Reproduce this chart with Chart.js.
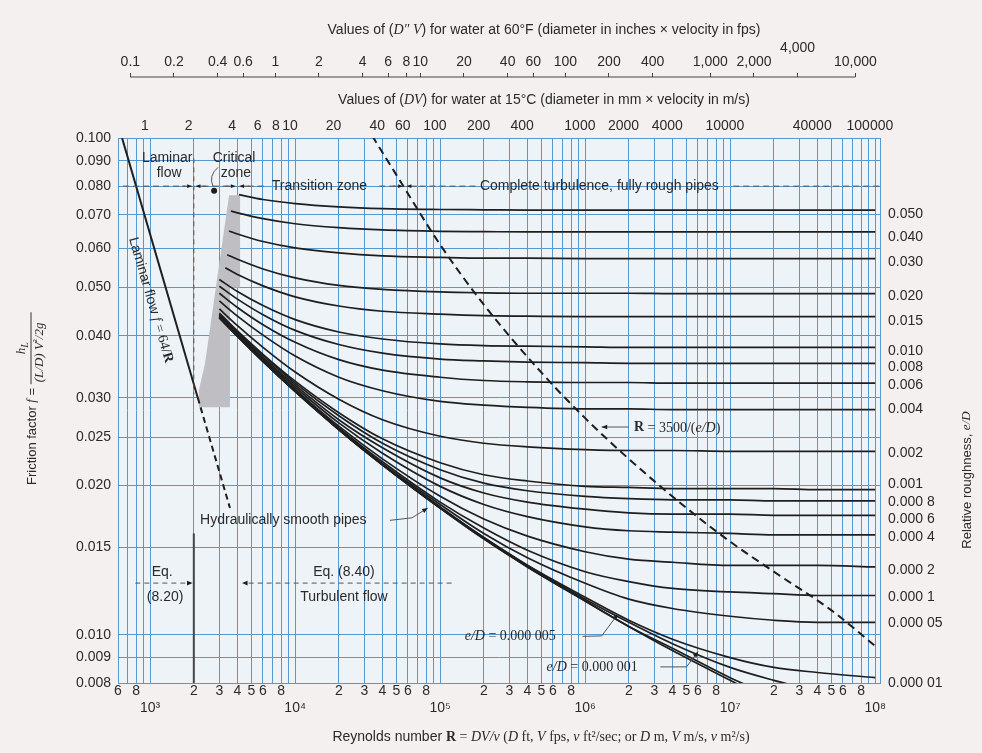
<!DOCTYPE html>
<html>
<head>
<meta charset="utf-8">
<script src="https://cdn.jsdelivr.net/npm/chart.js@4.4.1/dist/chart.umd.min.js"></script>
<style>
  html, body { margin: 0; padding: 0; background: #f5f0f0; }
  canvas { display: block; }
</style>
</head>
<body>
<canvas id="moody" width="982" height="753"></canvas>
<script>
var reynolds = [4000, 6000, 1e4, 2e4, 4e4, 1e5, 2e5, 4e5, 1e6, 2e6, 4e6, 1e7, 2e7, 4e7, 1e8];

// relative roughness of each curve, top to bottom (last three carry no right hand label)
var roughness = ['0.050', '0.040', '0.030', '0.020', '0.015', '0.010', '0.008', '0.006', '0.004',
  '0.002', '0.001', '0.000 8', '0.000 6', '0.000 4', '0.000 2', '0.000 1', '0.000 05', '0.000 01',
  '0.000 005', '0.000 001', 'smooth'];
// height of the right hand e/D labels, on the f scale
var roughnessLabelF = [0.0703, 0.0632, 0.0563, 0.0481, 0.0428, 0.0373, 0.0346, 0.0318, 0.0285,
  0.0232, 0.0201, 0.0185, 0.0171, 0.0157, 0.0135, 0.0119, 0.01057, 0.0080];

// where each curve starts, at the edge of the critical zone
var startRe = [4100, 3600, 3500, 3400, 3300, 3000, 3000, 3000, 3000, 3000, 3000, 3000, 3000, 3000, 3000, 3000, 3000, 3000, 3000, 3000, 3000];
var startF = [0.0769, 0.0713, 0.0650, 0.0582, 0.0548, 0.0519, 0.0503, 0.0487, 0.0470, 0.0453, 0.0444,
  0.0442, 0.0441, 0.0439, 0.0437, 0.0436, 0.0436, 0.0435, 0.0435, 0.0435, 0.0435];

// friction factor f at the reynolds numbers above, one row per curve
var frictionF = [
  [null, 0.0752, 0.0738, 0.0727, 0.0721, 0.0718, 0.0717, 0.0716, 0.0716, 0.0716, 0.0716, 0.0716, 0.0716, 0.0716, 0.0716],
  [0.0707, 0.0688, 0.0672, 0.0660, 0.0653, 0.0649, 0.0648, 0.0647, 0.0647, 0.0647, 0.0647, 0.0647, 0.0647, 0.0647, 0.0647],
  [0.0641, 0.0619, 0.0601, 0.0587, 0.0579, 0.0575, 0.0573, 0.0573, 0.0572, 0.0572, 0.0572, 0.0572, 0.0572, 0.0572, 0.0572],
  [0.0570, 0.0545, 0.0523, 0.0505, 0.0496, 0.0490, 0.0488, 0.0487, 0.0487, 0.0487, 0.0486, 0.0486, 0.0486, 0.0486, 0.0486],
  [0.0531, 0.0504, 0.0479, 0.0459, 0.0448, 0.0442, 0.0439, 0.0438, 0.0437, 0.0437, 0.0437, 0.0437, 0.0437, 0.0437, 0.0437],
  [0.0491, 0.0460, 0.0431, 0.0407, 0.0394, 0.0385, 0.0382, 0.0381, 0.0380, 0.0379, 0.0379, 0.0379, 0.0379, 0.0379, 0.0379],
  [0.0474, 0.0441, 0.0410, 0.0384, 0.0369, 0.0359, 0.0356, 0.0354, 0.0353, 0.0352, 0.0352, 0.0352, 0.0352, 0.0352, 0.0352],
  [0.0456, 0.0421, 0.0388, 0.0358, 0.0341, 0.0330, 0.0325, 0.0323, 0.0322, 0.0322, 0.0321, 0.0321, 0.0321, 0.0321, 0.0321],
  [0.0438, 0.0401, 0.0364, 0.0330, 0.0310, 0.0295, 0.0290, 0.0287, 0.0285, 0.0285, 0.0284, 0.0284, 0.0284, 0.0284, 0.0284],
  [0.0419, 0.0379, 0.0338, 0.0298, 0.0271, 0.0251, 0.0243, 0.0239, 0.0236, 0.0235, 0.0235, 0.0234, 0.0234, 0.0234, 0.0234],
  [0.0409, 0.0367, 0.0324, 0.0280, 0.0248, 0.0222, 0.0210, 0.0204, 0.0199, 0.0198, 0.0197, 0.0197, 0.0197, 0.0196, 0.0196],
  [0.0407, 0.0365, 0.0321, 0.0276, 0.0243, 0.0215, 0.0202, 0.0195, 0.0190, 0.0188, 0.0187, 0.0187, 0.0186, 0.0186, 0.0186],
  [0.0405, 0.0362, 0.0318, 0.0271, 0.0238, 0.0207, 0.0193, 0.0185, 0.0179, 0.0176, 0.0175, 0.0175, 0.0174, 0.0174, 0.0174],
  [0.0403, 0.0360, 0.0315, 0.0267, 0.0232, 0.0199, 0.0183, 0.0173, 0.0165, 0.0162, 0.0161, 0.0160, 0.0159, 0.0159, 0.0159],
  [0.0401, 0.0358, 0.0312, 0.0263, 0.0226, 0.0190, 0.0171, 0.0158, 0.0147, 0.0142, 0.0140, 0.0138, 0.0138, 0.0138, 0.0137],
  [0.0400, 0.0356, 0.0310, 0.0261, 0.0223, 0.0185, 0.0164, 0.0148, 0.0134, 0.0128, 0.0124, 0.0122, 0.0121, 0.0120, 0.0120],
  [0.0400, 0.0356, 0.0310, 0.0260, 0.0221, 0.0183, 0.0160, 0.0143, 0.0127, 0.0118, 0.0113, 0.0109, 0.0107, 0.0106, 0.0106],
  [0.0399, 0.0355, 0.0309, 0.0259, 0.0220, 0.0181, 0.0157, 0.0138, 0.0119, 0.0107, 0.0098, 0.0090, 0.0086, 0.0084, 0.0082],
  [0.0399, 0.0355, 0.0309, 0.0259, 0.0220, 0.0180, 0.0157, 0.0138, 0.0118, 0.0106, 0.0096, 0.0086, 0.0081, 0.0077, null],
  [0.0399, 0.0355, 0.0309, 0.0259, 0.0220, 0.0180, 0.0156, 0.0137, 0.0117, 0.0104, 0.0094, 0.0082, 0.0075, null, null],
  [0.0399, 0.0355, 0.0309, 0.0259, 0.0220, 0.0180, 0.0156, 0.0137, 0.0117, 0.0104, 0.0093, 0.0081, 0.0073, null, null]
];

// laminar line f = 64/R, solid then dashed
var laminarRe = [640, 2130];
var laminarF = [0.100, 0.0300];
var laminarDashRe = [2130, 3550];
var laminarDashF = [0.0300, 0.0180];

// boundary of complete turbulence, R = 3500/(e/D)
var boundaryRe = [3.4e4, 5e4, 1e5, 2e5, 5e5, 1e6, 2e6, 5e6, 1e7, 2e7, 5e7, 1e8];
var boundaryF = [0.101, 0.0842, 0.0610, 0.0462, 0.0337, 0.0273, 0.0226, 0.0180, 0.0154, 0.0134, 0.0112, 0.0095];

// grey critical zone outline
var criticalRe = [3500, 4170, 4170, 3550, 3550, 2170, 2170, 2390, 3500];
var criticalF = [0.0767, 0.0767, 0.0500, 0.0500, 0.0287, 0.0287, 0.0311, 0.0352, 0.0767];

// axis ticks
var fTicks = [0.008, 0.009, 0.010, 0.015, 0.020, 0.025, 0.030, 0.040, 0.050, 0.060, 0.070, 0.080, 0.090, 0.100];
var reMantissas = [1, 2, 3, 4, 5, 6, 7, 8, 9];
var reDecades = [100, 1e3, 1e4, 1e5, 1e6, 1e7, 1e8];
var reLabelled = [2, 3, 4, 5, 6, 8];
var dvMetricTicks = [1, 2, 4, 6, 8, 10, 20, 40, 60, 100, 200, 400, 1000, 2000, 4000, 10000, 40000, 100000];
var dvInchTicks = [0.1, 0.2, 0.4, 0.6, 1, 2, 4, 6, 8, 10, 20, 40, 60, 100, 200, 400, 1000, 2000, 4000, 10000];
var dvInchLabels = ['0.1', '0.2', '0.4', '0.6', '1', '2', '4', '6', '8', '10', '20', '40', '60', '100', '200',
  '400', '1,000', '2,000', '4,000', '10,000'];

var reMin = 600, reMax = 1.08e8;
var reToDvMetric = 920;   // R per unit of DV (mm x m/s)
var reToDvInch = 7300;    // R per unit of D"V (in x fps)

var ink = '#1e1e1e';
var gridBlue = '#5898d0';
var sansFont = '"Liberation Sans", Arial, sans-serif';
var serifFont = '"Liberation Serif", "Times New Roman", serif';
var supers = { 3: '\u00b3', 4: '\u2074', 5: '\u2075', 6: '\u2076', 7: '\u2077', 8: '\u2078' };

Chart.defaults.font.family = sansFont;
Chart.defaults.font.size = 14;
Chart.defaults.color = '#2a2a2a';

function toPoints(xs, ys) {
  return xs.map(function (x, i) { return { x: x, y: ys[i] }; });
}

var datasets = frictionF.map(function (row, i) {
  var pts = [{ x: startRe[i], y: startF[i] }];
  row.forEach(function (f, j) {
    if (f !== null && reynolds[j] > startRe[i]) pts.push({ x: reynolds[j], y: f });
  });
  return {
    label: roughness[i], data: pts, borderColor: ink, borderWidth: 1.7,
    pointRadius: 0, showLine: true, fill: false, cubicInterpolationMode: 'monotone'
  };
});
datasets.push({
  label: 'laminar', data: toPoints(laminarRe, laminarF), borderColor: ink, borderWidth: 2,
  pointRadius: 0, showLine: true, fill: false
});
datasets.push({
  label: 'laminar ext', data: toPoints(laminarDashRe, laminarDashF), borderColor: ink, borderWidth: 2,
  borderDash: [6, 4], pointRadius: 0, showLine: true, fill: false
});
datasets.push({
  label: 'R = 3500/(e/D)', data: toPoints(boundaryRe, boundaryF), borderColor: ink, borderWidth: 2,
  borderDash: [8, 5], pointRadius: 0, showLine: true, fill: false, cubicInterpolationMode: 'monotone'
});
datasets.push({
  label: 'critical zone', data: toPoints(criticalRe, criticalF), borderColor: 'rgba(0,0,0,0)', borderWidth: 0,
  backgroundColor: '#bfbfc3', pointRadius: 0, showLine: true, fill: 'shape', order: 10
});

// draw a run of differently styled text pieces
function drawRuns(ctx, runs, x, y, align) {
  var w = 0;
  runs.forEach(function (r) { ctx.font = r[1]; w += ctx.measureText(r[0]).width; });
  var cx = align === 'center' ? x - w / 2 : x;
  ctx.textAlign = 'left';
  runs.forEach(function (r) {
    ctx.font = r[1];
    ctx.fillText(r[0], cx, y + (r[2] || 0));
    cx += ctx.measureText(r[0]).width;
  });
  return w;
}

function arrowHead(ctx, x0, y0, x1, y1, size) {
  var a = Math.atan2(y1 - y0, x1 - x0);
  ctx.beginPath();
  ctx.moveTo(x1, y1);
  ctx.lineTo(x1 - size * Math.cos(a - 0.4), y1 - size * Math.sin(a - 0.4));
  ctx.lineTo(x1 - size * Math.cos(a + 0.4), y1 - size * Math.sin(a + 0.4));
  ctx.closePath();
  ctx.fill();
}

var S = '14px ' + sansFont, S13 = '13px ' + sansFont;
var R = '14px ' + serifFont, I = 'italic 14px ' + serifFont, B = 'bold 14px ' + serifFont;

var backdrop = {
  id: 'backdrop',
  beforeDraw: function (chart) {
    var a = chart.chartArea, ctx = chart.ctx;
    ctx.save();
    ctx.fillStyle = '#eef3f8';
    ctx.fillRect(a.left, a.top, a.right - a.left, a.bottom - a.top);
    ctx.restore();
  }
};

var notes = {
  id: 'notes',
  afterDatasetsDraw: function (chart) {
    var ctx = chart.ctx, xs = chart.scales.x, ys = chart.scales.y;
    function px(re) { return xs.getPixelForValue(re); }
    function py(f) { return ys.getPixelForValue(f); }
    ctx.save();
    ctx.fillStyle = ink;
    ctx.strokeStyle = '#555';
    ctx.lineWidth = 1;
    ctx.textBaseline = 'middle';

    // dashed guide at f = 0.08 with the zone boundaries
    ctx.setLineDash([6, 4]);
    [[650, 1750], [2300, 3700], [4700, 6300], [38000, 50000], [72000, 178000], [1.05e7, 1.08e8]].forEach(function (s) {
      ctx.beginPath(); ctx.moveTo(px(s[0]), py(0.08)); ctx.lineTo(px(s[1]), py(0.08)); ctx.stroke();
    });
    ctx.setLineDash([]);
    [2000, 4000, 57000].forEach(function (b) {
      var xb = px(b), yb = py(0.08);
      ctx.beginPath(); ctx.moveTo(xb - 12, yb); ctx.lineTo(xb - 2, yb); ctx.moveTo(xb + 12, yb); ctx.lineTo(xb + 2, yb); ctx.stroke();
      arrowHead(ctx, xb - 12, yb, xb - 2, yb, 5);
      arrowHead(ctx, xb + 12, yb, xb + 2, yb, 5);
    });
    ctx.beginPath(); ctx.arc(px(2760), py(0.0783), 3, 0, Math.PI * 2); ctx.fill();
    ctx.beginPath(); ctx.moveTo(px(2940), py(0.0873));
    ctx.quadraticCurveTo(px(2510), py(0.0839), px(2715), py(0.0799)); ctx.stroke();

    // Re = 2000 markers
    ctx.setLineDash([5, 4]);
    ctx.beginPath(); ctx.moveTo(px(2000), py(0.091)); ctx.lineTo(px(2000), py(0.0305)); ctx.stroke();
    ctx.setLineDash([]);
    ctx.strokeStyle = '#444'; ctx.lineWidth = 2;
    ctx.beginPath(); ctx.moveTo(px(2000), py(0.0160)); ctx.lineTo(px(2000), py(0.008)); ctx.stroke();
    ctx.lineWidth = 1; ctx.strokeStyle = '#555';

    // equation ranges
    ctx.setLineDash([5, 4]);
    ctx.beginPath(); ctx.moveTo(px(790), py(0.01271)); ctx.lineTo(px(1900), py(0.01271)); ctx.stroke();
    ctx.beginPath(); ctx.moveTo(px(1.2e5), py(0.01271)); ctx.lineTo(px(4500), py(0.01271)); ctx.stroke();
    ctx.setLineDash([]);
    arrowHead(ctx, px(1500), py(0.01271), px(1960), py(0.01271), 6);
    arrowHead(ctx, px(6000), py(0.01271), px(4300), py(0.01271), 6);

    // leaders
    function leader(pts) {
      ctx.beginPath();
      ctx.moveTo(px(pts[0][0]), py(pts[0][1]));
      for (var i = 1; i < pts.length; i++) ctx.lineTo(px(pts[i][0]), py(pts[i][1]));
      ctx.stroke();
      var n = pts.length;
      arrowHead(ctx, px(pts[n - 2][0]), py(pts[n - 2][1]), px(pts[n - 1][0]), py(pts[n - 1][1]), 6);
    }
    leader([[4.5e4, 0.0170], [6.4e4, 0.0172], [8.2e4, 0.0180]]);
    leader([[2.0e6, 0.0262], [1.3e6, 0.0262]]);
    leader([[9.6e5, 0.00993], [1.3e6, 0.00995], [1.68e6, 0.0110]]);
    leader([[3.3e6, 0.00862], [5.0e6, 0.00862], [6.0e6, 0.00925]]);

    // labels
    ctx.fillStyle = '#2a2a2a';
    drawRuns(ctx, [['Laminar', S]], px(1310), py(0.0912), 'center');
    drawRuns(ctx, [['flow', S]], px(1352), py(0.0850), 'center');
    drawRuns(ctx, [['Critical', S]], px(3790), py(0.0912), 'center');
    drawRuns(ctx, [['zone', S]], px(3900), py(0.0850), 'center');
    drawRuns(ctx, [['Transition zone', S]], px(6900), py(0.080), 'left');
    drawRuns(ctx, [['Complete turbulence, fully rough pipes', S]], px(1.88e5), py(0.080), 'left');
    drawRuns(ctx, [['Hydraulically smooth pipes', S]], px(2210), py(0.0170), 'left');
    drawRuns(ctx, [['Eq.', S]], px(1210), py(0.01338), 'center');
    drawRuns(ctx, [['(8.20)', S]], px(1268), py(0.0119), 'center');
    drawRuns(ctx, [['Eq. (8.40)', S]], px(21700), py(0.01338), 'center');
    drawRuns(ctx, [['Turbulent flow', S]], px(21700), py(0.0119), 'center');
    drawRuns(ctx, [['R', B], [' = 3500/(', R], ['e/D', I], [')', R]], px(2.17e6), py(0.0261), 'left');
    drawRuns(ctx, [['e/D', I], [' = 0.000 005', R]], px(1.476e5), py(0.00995), 'left');
    drawRuns(ctx, [['e/D', I], [' = 0.000 001', R]], px(5.42e5), py(0.00862), 'left');

    // label along the laminar line
    var ang = Math.atan2(py(laminarF[1]) - py(laminarF[0]), px(laminarRe[1]) - px(laminarRe[0]));
    ctx.translate(px(1010), py(0.0472));
    ctx.rotate(ang);
    drawRuns(ctx, [['Laminar flow ', S], ['f', I], [' = 64/', R], ['R', B]], 0, 0, 'center');
    ctx.restore();
  }
};

var titles = {
  id: 'titles',
  afterDraw: function (chart) {
    var ctx = chart.ctx, a = chart.chartArea, xi = chart.scales.xi;
    ctx.save();
    ctx.fillStyle = '#2a2a2a';
    ctx.textBaseline = 'middle';
    // line of the upper (inch) scale
    ctx.strokeStyle = '#444'; ctx.lineWidth = 1.2;
    ctx.beginPath();
    ctx.moveTo(xi.getPixelForValue(dvInchTicks[0]), xi.bottom);
    ctx.lineTo(xi.getPixelForValue(dvInchTicks[dvInchTicks.length - 1]), xi.bottom);
    ctx.stroke();

    var mid = (a.left + a.right) / 2 + 45;
    drawRuns(ctx, [['Values of (', S], ['D\u2033 V', I], [') for water at 60\u00b0F (diameter in inches \u00d7 velocity in fps)', S]], mid, 30, 'center');
    drawRuns(ctx, [['Values of (', S], ['DV', I], [') for water at 15\u00b0C (diameter in mm \u00d7 velocity in m/s)', S]], mid, 100, 'center');
    drawRuns(ctx, [['Reynolds number ', S], ['R', B], [' = ', R], ['DV/\u03bd', I], [' (', R], ['D', I], [' ft, ', R], ['V', I],
      [' fps, ', R], ['\u03bd', I], [' ft\u00b2/sec; or ', R], ['D', I], [' m, ', R], ['V', I], [' m/s, ', R], ['\u03bd', I], [' m\u00b2/s)', R]],
      mid - 3, 737, 'center');

    // left title with the fraction
    ctx.save();
    ctx.translate(30, 397);
    ctx.rotate(-Math.PI / 2);
    var F13 = '13px ' + sansFont, I13 = 'italic 13px ' + serifFont, I10 = 'italic 10px ' + serifFont;
    var w1 = drawRuns(ctx, [['Friction factor ', F13], ['f', I13], [' = ', F13]], -88, 2, 'left');
    var fx = -88 + w1;
    drawRuns(ctx, [['(', I13], ['L/D', I13], [') ', I13], ['V', I13], ['\u00b2', '10px ' + serifFont, -3], ['/2', I13], ['g', I13]], fx + 2, 10, 'left');
    ctx.strokeStyle = '#333'; ctx.lineWidth = 1;
    ctx.beginPath(); ctx.moveTo(fx, 1); ctx.lineTo(fx + 72, 1); ctx.stroke();
    drawRuns(ctx, [['h', I13], ['L', I10, 3]], fx + 30, -8, 'left');
    ctx.restore();

    // right title
    ctx.save();
    ctx.translate(967, 480);
    ctx.rotate(-Math.PI / 2);
    drawRuns(ctx, [['Relative roughness, ', S13], ['e/D', 'italic 13px ' + serifFont]], 0, 0, 'center');
    ctx.restore();
    ctx.restore();
  }
};

function setTicks(values) {
  return function (scale) { scale.ticks = values.map(function (v) { return { value: v }; }); };
}

var reTicks = [];
reDecades.forEach(function (d) {
  reMantissas.forEach(function (m) {
    var v = m * d;
    if (v >= reMin && v <= 1e8) reTicks.push(v);
  });
});

new Chart(document.getElementById('moody'), {
  type: 'scatter',
  data: { datasets: datasets },
  plugins: [backdrop, notes, titles],
  options: {
    responsive: false,
    animation: false,
    layout: { padding: 0 },
    plugins: { legend: { display: false }, tooltip: { enabled: false } },
    scales: {
      x: {
        type: 'logarithmic', position: 'bottom', min: reMin, max: reMax,
        afterBuildTicks: setTicks(reTicks),
        afterFit: function (s) { s.height = 70; },
        grid: { color: gridBlue, lineWidth: 1, drawTicks: false },
        border: { display: true, color: gridBlue },
        ticks: {
          autoSkip: false, maxRotation: 0, minRotation: 0, padding: 0,
          callback: function (v) {
            var e = Math.floor(Math.log10(v) + 1e-9);
            var m = Math.round(v / Math.pow(10, e));
            if (m === 1) return ['', '10' + supers[e]];
            return reLabelled.indexOf(m) >= 0 ? String(m) : '';
          }
        }
      },
      xm: {
        type: 'logarithmic', position: 'top', weight: 1,
        min: reMin / reToDvMetric, max: reMax / reToDvMetric,
        afterBuildTicks: setTicks(dvMetricTicks),
        afterFit: function (s) { s.height = 61; },
        grid: { drawOnChartArea: false, drawTicks: false },
        border: { display: true, color: gridBlue },
        ticks: { autoSkip: false, maxRotation: 0, padding: 3, callback: function (v) { return String(v); } }
      },
      xi: {
        type: 'logarithmic', position: 'top', weight: 2,
        min: reMin / reToDvInch, max: reMax / reToDvInch,
        afterBuildTicks: setTicks(dvInchTicks),
        afterFit: function (s) { s.height = 77; },
        grid: { drawOnChartArea: false, drawTicks: true, tickLength: 4, color: '#444' },
        border: { display: false },
        ticks: {
          autoSkip: false, maxRotation: 0, padding: 4, font: { lineHeight: 1.0 },
          callback: function (v, i) { return dvInchLabels[i] === '4,000' ? ['4,000', ''] : dvInchLabels[i]; }
        }
      },
      y: {
        type: 'logarithmic', position: 'left', min: 0.008, max: 0.100,
        afterBuildTicks: setTicks(fTicks),
        afterFit: function (s) { s.width = 118; },
        grid: { color: gridBlue, lineWidth: 1, drawTicks: false },
        border: { display: true, color: gridBlue },
        ticks: { autoSkip: false, padding: 7, callback: function (v) { return v.toFixed(3); } }
      },
      yR: {
        type: 'logarithmic', position: 'right', min: 0.008, max: 0.100,
        afterBuildTicks: setTicks(roughnessLabelF),
        afterFit: function (s) { s.width = 102; },
        grid: { drawOnChartArea: false, drawTicks: false },
        border: { display: true, color: gridBlue },
        ticks: { autoSkip: false, padding: 8, callback: function (v, i) { return roughness[i]; } }
      }
    }
  }
});
</script>
</body>
</html>
